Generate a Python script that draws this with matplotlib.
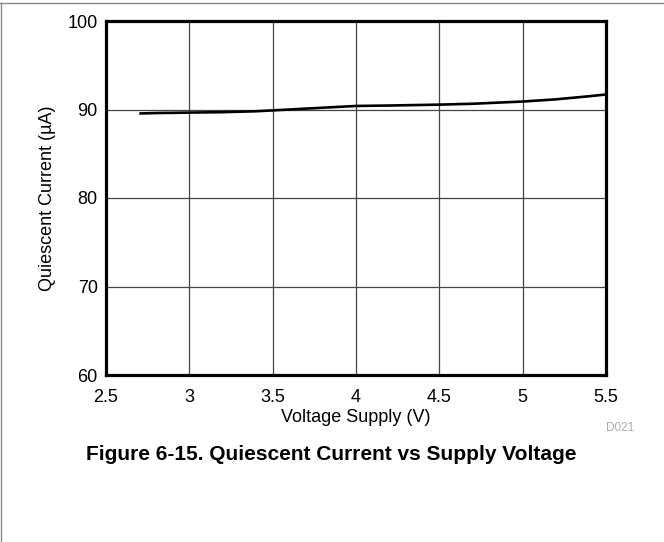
import matplotlib.pyplot as plt
from matplotlib.lines import Line2D

plt.rcParams['font.family'] = ['Liberation Sans', 'DejaVu Sans']

voltage = [2.7, 2.8, 3.0, 3.2, 3.4, 3.5, 3.6, 3.8, 4.0, 4.2, 4.5, 4.7, 5.0, 5.2, 5.4, 5.5]
current = [89.55, 89.6, 89.65, 89.7, 89.8, 89.9, 90.0, 90.2, 90.4, 90.45, 90.55, 90.65, 90.9, 91.15, 91.5, 91.7]

x_ticks = [2.5, 3, 3.5, 4, 4.5, 5, 5.5]
x_labels = ["2.5", "3", "3.5", "4", "4.5", "5", "5.5"]
y_ticks = [60, 70, 80, 90, 100]

W, H = 664, 542
fig = plt.figure(figsize=(W / 100, H / 100), dpi=100)
ax = fig.add_axes([106 / W, 1 - 375 / H, 500 / W, 354 / H])

ax.plot(voltage, current, color='black', lw=1.9, solid_capstyle='butt')
ax.set_xlim(2.5, 5.5)
ax.set_ylim(60, 100)
ax.set_xticks(x_ticks)
ax.set_xticklabels(x_labels)
ax.set_yticks(y_ticks)
ax.grid(True, color='#444444', lw=0.9)
ax.set_axisbelow(True)
ax.tick_params(length=0, labelsize=13)
ax.tick_params(axis='x', pad=10)
ax.tick_params(axis='y', pad=6)
for s in ax.spines.values():
    s.set_linewidth(2.3)
    s.set_color('black')

ax.set_xlabel("Voltage Supply (V)", fontsize=13, labelpad=2)
ax.set_ylabel("Quiescent Current (\u00b5A)", fontsize=13, labelpad=8)

fig.text(620 / W, 1 - 428 / H, "D021", color='#aaaaaa', fontsize=8.5, ha='center', va='center')
fig.text(331 / W, 1 - 455 / H, "Figure 6-15. Quiescent Current vs Supply Voltage",
         fontsize=15, fontweight='bold', ha='center', va='center')

# page border
fig.add_artist(Line2D([0, 1], [1 - 3 / H, 1 - 3 / H], transform=fig.transFigure, color='#888888', lw=1))
fig.add_artist(Line2D([0.5 / W, 0.5 / W], [0, 1 - 3 / H], transform=fig.transFigure, color='#888888', lw=1))

fig.savefig("out.png", dpi=100)
